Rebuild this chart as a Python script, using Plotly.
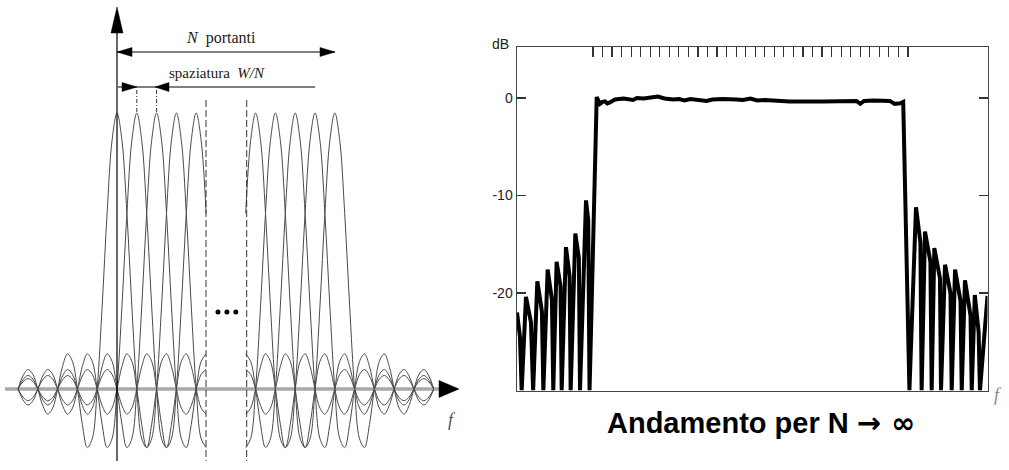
import numpy as np
import plotly.graph_objects as go

# ---------------- data: left panel (OFDM sub-carriers) ----------------
LEFT_CARRIERS = [0, 1, 2, 3, 4]          # carrier positions (units of W/N)
RIGHT_CARRIERS = [7, 8, 9, 10, 11]
LEFT_VISIBLE = [-5.0, 4.5]               # drawn frequency span of each group
RIGHT_VISIBLE = [6.5, 16.0]
PULSE_STEP = 0.25                        # pulse shape sampled every 1/4 spacing
# pulse amplitude at offsets 0, 0.25, ..., 9 (symmetric)
PULSE_HALF = [1.0, 0.9003, 0.6366, 0.3001, 0.0, -0.1801, -0.2122, -0.1286,
              0.0, 0.1000, 0.1273, 0.0818, 0.0, -0.0693, -0.0909, -0.0600,
              0.0, 0.0530, 0.0707, 0.0474, 0.0, -0.0429, -0.0579, -0.0391,
              0.0, 0.0360, 0.0490, 0.0333, 0.0, -0.0310, -0.0424, -0.0290,
              0.0, 0.0273, 0.0374, 0.0257, 0.0]
DOTS_F = [5.1, 5.55, 6.0]
DOTS_A = [0.279, 0.279, 0.279]

# ---------------- data: right panel (spectrum in dB) ----------------
RESP_F = [-7.96, -7.65, -7.47, -7.02, -6.5, -6.27, -5.83, -5.35, -5.2, -4.75,
          -4.3, -4.16, -3.81, -3.4, -3.28, -2.83, -2.45, -2.34, -1.85, -1.48,
          -1.36, -0.73, -0.5, -0.36,
          0.39, 0.73, 1.0, 1.26, 1.5, 1.78, 2.3, 3.2, 4.2, 4.6, 5.3, 6.0, 6.8,
          7.5, 8.4, 9.0, 9.6, 10.2, 11.0, 11.9, 12.5, 13.6, 15.0, 15.7, 16.5,
          17.2, 18.0, 20.6, 24.1, 26.0, 27.6, 28.0, 28.4, 29.4, 31.1, 31.6,
          32.2, 32.5,
          33.15, 33.84, 34.3, 34.43, 34.78, 35.35, 35.48, 35.76, 36.35, 36.46,
          36.88, 37.45, 37.58, 37.93, 38.5, 38.63, 38.97, 39.55, 39.68, 40.0,
          40.4, 40.54, 41.33]
RESP_DB = [-22.0, -24.5, -30, -20.4, -23.0, -30, -18.8, -21.9, -30, -17.6,
           -20.7, -30, -16.8, -19.3, -30, -15.3, -18.3, -30, -13.9, -16.4,
           -30, -10.5, -12.5, -30,
           0.1, -0.6, -0.4, -0.35, -0.55, -0.45, -0.15, -0.05, -0.2, 0.0, -0.05,
           0.05, 0.15, -0.05, -0.15, -0.1, -0.25, -0.1, -0.2, -0.3, -0.15, -0.1,
           -0.15, -0.2, -0.05, -0.25, -0.2, -0.35, -0.35, -0.35, -0.3, -0.6,
           -0.3, -0.25, -0.3, -0.6, -0.55, -0.4,
           -30, -11.2, -14.8, -30, -13.7, -16.8, -30, -15.4, -18.5, -30, -17.1,
           -20.0, -30, -17.6, -20.8, -30, -18.7, -22.3, -30, -20.2, -24.0, -30,
           -20.3]
RULER_TICKS = list(range(34))
DB_TICKS = [0, -10, -20]
DB_LABELS = ["0", "-10", "-20"]

# ---------------- geometry helpers ----------------
W, H = 1009, 470
X0_PX, PX_PER_U = 117.0, 19.8      # left panel: f=0 at 117px, spacing 19.8px
Y0_PX, PX_PER_A = 389.0, 276.0     # left panel: baseline at 389px, peak 276px above


def u(px):
    return (px - X0_PX) / PX_PER_U


def a(py):
    return (Y0_PX - py) / PX_PER_A


def head(tx, ty, direction, L=15, Hh=4.5):
    if direction == "right":
        pts = [(tx, ty), (tx - L, ty - Hh), (tx - L, ty + Hh)]
    elif direction == "left":
        pts = [(tx, ty), (tx + L, ty - Hh), (tx + L, ty + Hh)]
    else:  # up
        pts = [(tx, ty), (tx - Hh, ty + L), (tx + Hh, ty + L)]
    p = "M {},{} L {},{} L {},{} Z".format(u(pts[0][0]), a(pts[0][1]),
                                          u(pts[1][0]), a(pts[1][1]),
                                          u(pts[2][0]), a(pts[2][1]))
    return dict(type="path", path=p, xref="x", yref="y", fillcolor="black",
                line=dict(color="black", width=0.5), layer="above")


def seg(x0, y0, x1, y1, color="black", width=1, dash="solid", layer="above"):
    return dict(type="line", xref="x", yref="y", x0=u(x0), y0=a(y0), x1=u(x1),
                y1=a(y1), line=dict(color=color, width=width, dash=dash),
                layer=layer)


# ---------------- figure ----------------
fig = go.Figure()

pulse_vals = np.array(PULSE_HALF[::-1][:-1] + PULSE_HALF)
n_half = len(PULSE_HALF) - 1
pulse_off = np.arange(-n_half, n_half + 1) * PULSE_STEP

for carriers, vis in ((LEFT_CARRIERS, LEFT_VISIBLE), (RIGHT_CARRIERS, RIGHT_VISIBLE)):
    for c in carriers:
        xs = c + pulse_off
        m = (xs >= vis[0] - 1e-9) & (xs <= vis[1] + 1e-9)
        fig.add_trace(go.Scatter(x=xs[m], y=pulse_vals[m], mode="lines",
                                 line=dict(color="#4a4a4a", width=1, shape="spline"),
                                 xaxis="x", yaxis="y", hoverinfo="skip"))

fig.add_trace(go.Scatter(x=DOTS_F, y=DOTS_A, mode="markers",
                         marker=dict(color="black", size=5), xaxis="x", yaxis="y"))

fig.add_trace(go.Scatter(x=RESP_F, y=RESP_DB, mode="lines",
                         line=dict(color="black", width=4),
                         xaxis="x2", yaxis="y2"))

shapes = [
    # frequency baseline (grey) and vertical axis
    seg(5, Y0_PX, 441, Y0_PX, color="#a8a8a8", width=3.5, layer="below"),
    seg(117, 461, 117, 26, color="black", width=1.2),
    head(117, 7, "up", L=26, Hh=6),
    head(459, Y0_PX, "right", L=20, Hh=8.5),
    # N portanti arrow
    seg(117, 52, 335, 52, width=1),
    head(117, 52, "left"), head(335, 52, "right"),
    # spaziatura arrow
    seg(118, 87, 315, 87, width=1),
    head(137, 87, "right"), head(155, 87, "left", L=14),
    # short dash-dot markers above carriers 1 and 2
    seg(136.8, 90, 136.8, 112, color="#333", width=1, dash="4px,2px,1px,2px"),
    seg(156.6, 90, 156.6, 112, color="#333", width=1, dash="4px,2px,1px,2px"),
    # dashed group boundaries
    seg(206, 100, 206, 461, color="#333", width=1, dash="7px,3px"),
    seg(246.7, 100, 246.7, 461, color="#333", width=1, dash="7px,3px"),
]

serif = "Liberation Serif, Times New Roman, serif"
sans = "Liberation Sans, Arial, sans-serif"
annotations = [
    dict(x=u(221), y=a(38), xref="x", yref="y", text="<i>N</i>  portanti",
         showarrow=False, font=dict(family=serif, size=16, color="#1a1a1a")),
    dict(x=u(217), y=a(73), xref="x", yref="y", text="spaziatura  <i>W/N</i>",
         showarrow=False, font=dict(family=serif, size=15, color="#1a1a1a")),
    dict(x=u(452), y=a(420), xref="x", yref="y", text="<i>f</i>",
         showarrow=False, font=dict(family=serif, size=18, color="#555")),
    dict(x=500 / W, y=1 - 44 / H, xref="paper", yref="paper", text="dB",
         showarrow=False, font=dict(family=sans, size=14, color="#222")),
    dict(x=998 / W, y=1 - 395 / H, xref="paper", yref="paper", text="<i>f</i>",
         showarrow=False, font=dict(family=serif, size=18, color="#888")),
    dict(x=761 / W, y=1 - 423 / H, xref="paper", yref="paper",
         text="<b>Andamento per N </b><span style='font-family:DejaVu Sans'>"
              "<b>\u2192 \u221e</b></span>",
         showarrow=False, font=dict(family=sans, size=29, color="black")),
]
for ann in annotations:
    ann["xanchor"] = "center"
    ann["yanchor"] = "middle"

fig.update_layout(
    width=W, height=H, margin=dict(l=0, r=0, t=0, b=0),
    paper_bgcolor="white", plot_bgcolor="white", showlegend=False,
    shapes=shapes, annotations=annotations,
    xaxis=dict(domain=[0, 480 / W], range=[u(0), u(480)], visible=False),
    yaxis=dict(domain=[0, 1], range=[a(H), a(0)], visible=False),
    xaxis2=dict(domain=[517 / W, 987.5 / W], range=[-7.96, 41.33], anchor="y2",
                side="top", showline=True, mirror=True, linecolor="#444",
                linewidth=1.5, ticks="inside", tickvals=RULER_TICKS, ticklen=10,
                tickwidth=1.2, tickcolor="#333", showticklabels=False,
                showgrid=False, zeroline=False),
    yaxis2=dict(domain=[1 - 390.5 / H, 1 - 47.3 / H], range=[-30, 5.2],
                anchor="x2", showline=True, mirror="allticks", linecolor="#444",
                linewidth=1.5, ticks="inside", tickvals=DB_TICKS,
                ticktext=DB_LABELS, ticklen=9, tickwidth=1.2, tickcolor="#333",
                tickfont=dict(family=sans, size=14, color="#222"),
                showgrid=False, zeroline=False),
)

fig.write_html("out.html",
               config={"displayModeBar": False, "staticPlot": True},
               post_script="document.body.style.margin='0';"
                           "document.body.style.overflow='hidden';")
